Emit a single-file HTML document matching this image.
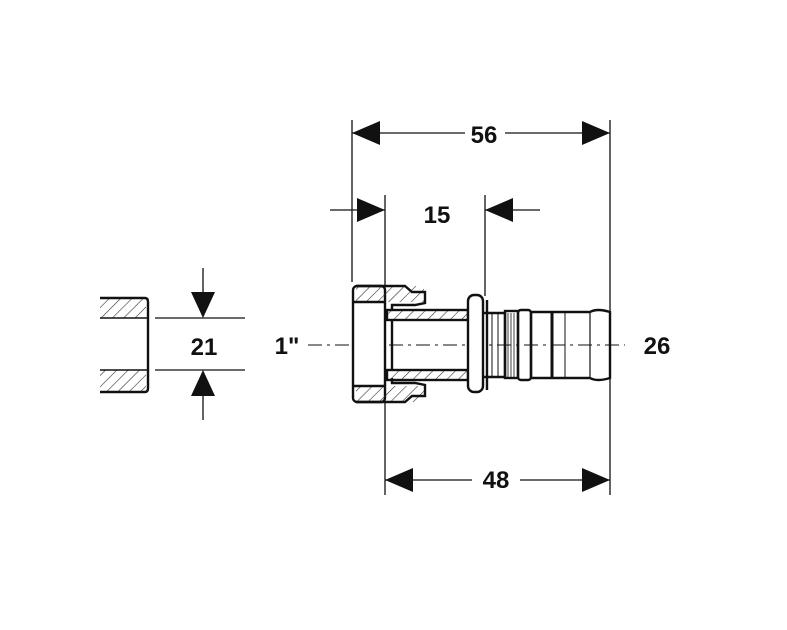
<!DOCTYPE html>
<html><head><style>body{margin:0;background:#fff}svg{display:block}text{font-family:"Liberation Sans",sans-serif;font-weight:bold;font-size:24px;fill:#111}</style></head><body>
<svg width="787" height="630" viewBox="0 0 787 630" xmlns="http://www.w3.org/2000/svg">
<defs>
<pattern id="h" width="8" height="8" patternUnits="userSpaceOnUse" patternTransform="rotate(45)"><line x1="0" y1="0" x2="0" y2="8" stroke="#333" stroke-width="1.2"/></pattern>
</defs>
<g stroke="#111" fill="none" stroke-width="1.3">
<line x1="352" y1="120" x2="352" y2="282"/>
<line x1="385" y1="195" x2="385" y2="495"/>
<line x1="485" y1="195" x2="485" y2="296"/>
<line x1="610" y1="120" x2="610" y2="495"/>
<line x1="352" y1="133" x2="465" y2="133"/><line x1="505" y1="133" x2="610" y2="133"/>
<line x1="330" y1="210" x2="385" y2="210"/><line x1="485" y1="210" x2="540" y2="210"/>
<line x1="385" y1="480" x2="472" y2="480"/><line x1="520" y1="480" x2="610" y2="480"/>
<line x1="308" y1="345" x2="625" y2="345" stroke-dasharray="14,5,3,5" stroke-width="1"/>
<line x1="155" y1="318" x2="245" y2="318"/><line x1="155" y1="370" x2="245" y2="370"/>
<line x1="203" y1="268" x2="203" y2="300"/><line x1="203" y1="390" x2="203" y2="420"/>
</g>
<g fill="#111">
<polygon points="352,133 380,121 380,145"/><polygon points="610,133 582,121 582,145"/>
<polygon points="385,210 357,198 357,222"/><polygon points="485,210 513,198 513,222"/>
<polygon points="385,480 413,468 413,492"/><polygon points="610,480 582,468 582,492"/>
<polygon points="203,318 191,292 215,292"/><polygon points="203,370 191,396 215,396"/>
</g>
<rect x="100" y="298" width="46" height="20" fill="url(#h)" stroke="none"/>
<rect x="100" y="370" width="46" height="22" fill="url(#h)" stroke="none"/>
<g stroke="#111" fill="none" stroke-width="2.4">
<path d="M100 298 H145 Q148 298 148 302 V388 Q148 392 145 392 H100"/>
<line x1="100" y1="318" x2="147" y2="318" stroke-width="1.5"/><line x1="100" y1="370" x2="147" y2="370" stroke-width="1.5"/>
</g>
<g stroke="#111" stroke-width="2.4" fill="none">
<rect x="353" y="286" width="32" height="116" rx="4" fill="#fff"/>
<rect x="356" y="286" width="68" height="16" fill="url(#h)" stroke="none"/>
<rect x="356" y="386" width="68" height="16" fill="url(#h)" stroke="none"/>
<path d="M353 302 H385 M353 386 H385"/>
<path d="M356 286 H405 L412 292 H425 V303 L415 305 H392 V310"/>
<path d="M356 402 H405 L412 396 H425 V385 L415 383 H392 V378"/>
<rect x="387" y="310" width="81" height="10" fill="url(#h)"/>
<rect x="387" y="370" width="81" height="10" fill="url(#h)"/>
<line x1="392" y1="320" x2="392" y2="370"/>
<rect x="468" y="295" width="15" height="97" rx="6" fill="#fff"/>
<line x1="487" y1="300" x2="487" y2="390"/>
<path d="M484 313 H505 V377 H484"/>
<line x1="492" y1="313" x2="492" y2="377" stroke-width="1"/><line x1="498" y1="313" x2="498" y2="377" stroke-width="1"/>
<rect x="505" y="311" width="13" height="67"/>
<rect x="518" y="310" width="13" height="70" rx="3"/>
<path d="M531 312 H590 Q597 308 610 312 V378 Q597 382 590 378 H531 Z"/>
<line x1="552" y1="312" x2="552" y2="378" stroke-width="3"/>
<line x1="565" y1="312" x2="565" y2="378" stroke-width="1"/>
<line x1="590" y1="312" x2="590" y2="378" stroke-width="1.2"/>
</g>
<g stroke="#111" stroke-width="0.8">
<line x1="508" y1="313" x2="508" y2="377"/><line x1="511" y1="313" x2="511" y2="377"/><line x1="514" y1="313" x2="514" y2="377"/>
</g>
<text x="484" y="143" text-anchor="middle">56</text>
<text x="437" y="223" text-anchor="middle">15</text>
<text x="204" y="355" text-anchor="middle">21</text>
<text x="287" y="354" text-anchor="middle">1"</text>
<text x="657" y="354" text-anchor="middle">26</text>
<text x="496" y="488" text-anchor="middle">48</text>
</svg>
</body></html>
